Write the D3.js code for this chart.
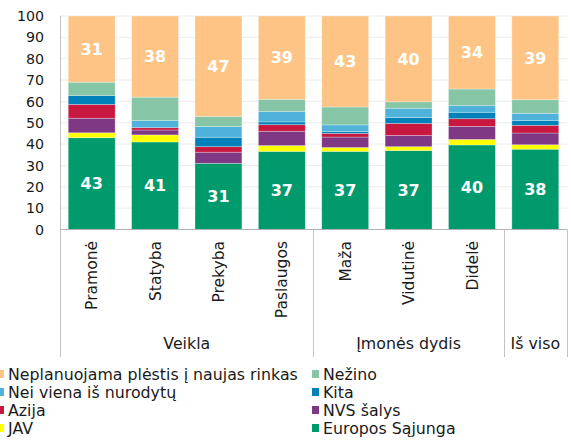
<!DOCTYPE html>
<html><head><meta charset="utf-8">
<script src="https://cdn.jsdelivr.net/npm/d3@7"></script>
<style>
html,body{margin:0;padding:0;background:#fff;}
svg{display:block;font-family:"DejaVu Sans",Verdana,sans-serif;}
</style></head>
<body><svg id="c" width="571" height="440"></svg>
<script>
const categories = ["Pramonė","Statyba","Prekyba","Paslaugos","Maža","Vidutinė","Didelė","Iš viso"];
const groups = [{name:"Veikla", from:0, to:3},{name:"Įmonės dydis", from:4, to:6},{name:"Iš viso", from:7, to:7}];
const seriesNames = ["Europos Sąjunga","JAV","NVS šalys","Azija","Kita","Nei viena iš nurodytų","Nežino","Neplanuojama plėstis į naujas rinkas"];
const seriesColors = ["#009a6c","#ffff00","#7f3984","#c8183f","#0081b9","#4eb2da","#86c6a6","#fdc486"];
const europosSajunga = [43, 41, 31, 36.6, 36.6, 37, 39.6, 37.6];
const jav            = [2.3, 3.3, 0, 2.7, 1.8, 1.8, 2.6, 2.1];
const nvsSalys       = [6.8, 2.3, 5.2, 6.7, 4.9, 5.3, 6.1, 5.5];
const azija          = [6.5, 1.1, 2.6, 3.1, 1.7, 5.6, 3.6, 3.6];
const kita           = [4.1, 0, 4.4, 1.3, 0.9, 2.7, 3.0, 2.3];
const neiViena       = [0, 3.3, 5, 4.8, 3.1, 4.4, 3.1, 3.3];
const nezino         = [6.3, 11, 4.8, 5.8, 8.4, 3, 7.8, 6.4];
const neplanuojama   = [31, 38, 47, 39, 42.6, 40.2, 34.2, 39.2];
const yTicks = [0,10,20,30,40,50,60,70,80,90,100];
const labeledSeries = [0, 7];

const seriesValues = [europosSajunga, jav, nvsSalys, azija, kita, neiViena, nezino, neplanuojama];
const table = categories.map((c,i)=>{const o={cat:c}; seriesNames.forEach((s,j)=>o[s]=seriesValues[j][i]); return o;});
const stacked = d3.stack().keys(seriesNames)(table);

const svg = d3.select("#c");
const x = d3.scaleBand().domain(categories).range([60,567]).paddingInner(0.26).paddingOuter(0.13);
const y = d3.scaleLinear().domain([0,100]).range([229.5,16]);

// gridlines
svg.append("g").selectAll("line").data(yTicks.filter(t=>t>0)).join("line")
  .attr("x1",60).attr("x2",567).attr("y1",d=>y(d)).attr("y2",d=>y(d))
  .attr("stroke","#ececec").attr("stroke-width",1);

// y axis labels
svg.append("g").selectAll("text").data(yTicks).join("text")
  .attr("x",44).attr("y",d=>y(d)).attr("dy","0.36em").attr("text-anchor","end")
  .attr("font-size",14.2).attr("fill","#1a1a1a").text(d=>d);

// bars
const layers = svg.append("g").selectAll("g").data(stacked).join("g")
  .attr("fill",(d,i)=>seriesColors[i]);
layers.selectAll("rect").data(d=>d.filter(p=>p[1]-p[0]>0)).join("rect")
  .attr("x",d=>x(d.data.cat)).attr("width",x.bandwidth())
  .attr("y",d=>y(d[1])).attr("height",d=>y(d[0])-y(d[1]))
  .attr("stroke","#ffffff").attr("stroke-opacity",0.35).attr("stroke-width",0.8);

// data labels
labeledSeries.forEach(si=>{
  svg.append("g").selectAll("text").data(stacked[si]).join("text")
    .attr("x",d=>x(d.data.cat)+x.bandwidth()/2)
    .attr("y",d=>y((d[0]+d[1])/2)).attr("dy","0.36em")
    .attr("text-anchor","middle").attr("font-size",16).attr("font-weight","bold")
    .attr("fill","#ffffff").text(d=>Math.round(d[1]-d[0]));
});

// axes lines
svg.append("line").attr("x1",60.5).attr("x2",60.5).attr("y1",16).attr("y2",229.5).attr("stroke","#c4c4c4");
svg.append("line").attr("x1",60).attr("x2",567).attr("y1",229.5).attr("y2",229.5).attr("stroke","#b0b0b0");

// category separators in lower axis
const sepX = [x.range()[0]];
groups.forEach(g=>{ sepX.push(x(categories[g.to]) + x.bandwidth() + x.step()*x.paddingInner()/2); });
sepX[sepX.length-1] = x.range()[1];
svg.append("g").selectAll("line").data(sepX).join("line")
  .attr("x1",d=>Math.round(d)+0.5).attr("x2",d=>Math.round(d)+0.5)
  .attr("y1",229.5).attr("y2",357).attr("stroke","#c4c4c4");

// category labels (rotated)
svg.append("g").selectAll("text").data(categories.filter(c=>c!=="Iš viso")).join("text")
  .attr("transform",d=>`translate(${x(d)+x.bandwidth()/2},241) rotate(-90)`)
  .attr("dy","0.36em").attr("text-anchor","end").attr("font-size",15.5).attr("fill","#1a1a1a")
  .text(d=>d);

// group labels
svg.append("g").selectAll("text").data(groups).join("text")
  .attr("x",g=>{const a=x(categories[g.from]); const b=x(categories[g.to])+x.bandwidth(); return (a+b)/2;})
  .attr("y",343).attr("dy","0.36em").attr("text-anchor","middle")
  .attr("font-size",15.8).attr("fill","#1a1a1a").text(g=>g.name);

// legend
const legendOrder = seriesNames.map((s,i)=>({name:s,color:seriesColors[i]})).reverse();
const lg = svg.append("g").selectAll("g").data(legendOrder).join("g")
  .attr("transform",(d,i)=>`translate(${i%2===0?0:315},${374+Math.floor(i/2)*18})`);
lg.append("rect").attr("x",-3).attr("y",-4).attr("width",7).attr("height",8).attr("fill",d=>d.color);
lg.append("text").attr("x",8).attr("dy","0.36em").attr("font-size",15.8).attr("fill","#1a1a1a").text(d=>d.name);
</script>
</body></html>
